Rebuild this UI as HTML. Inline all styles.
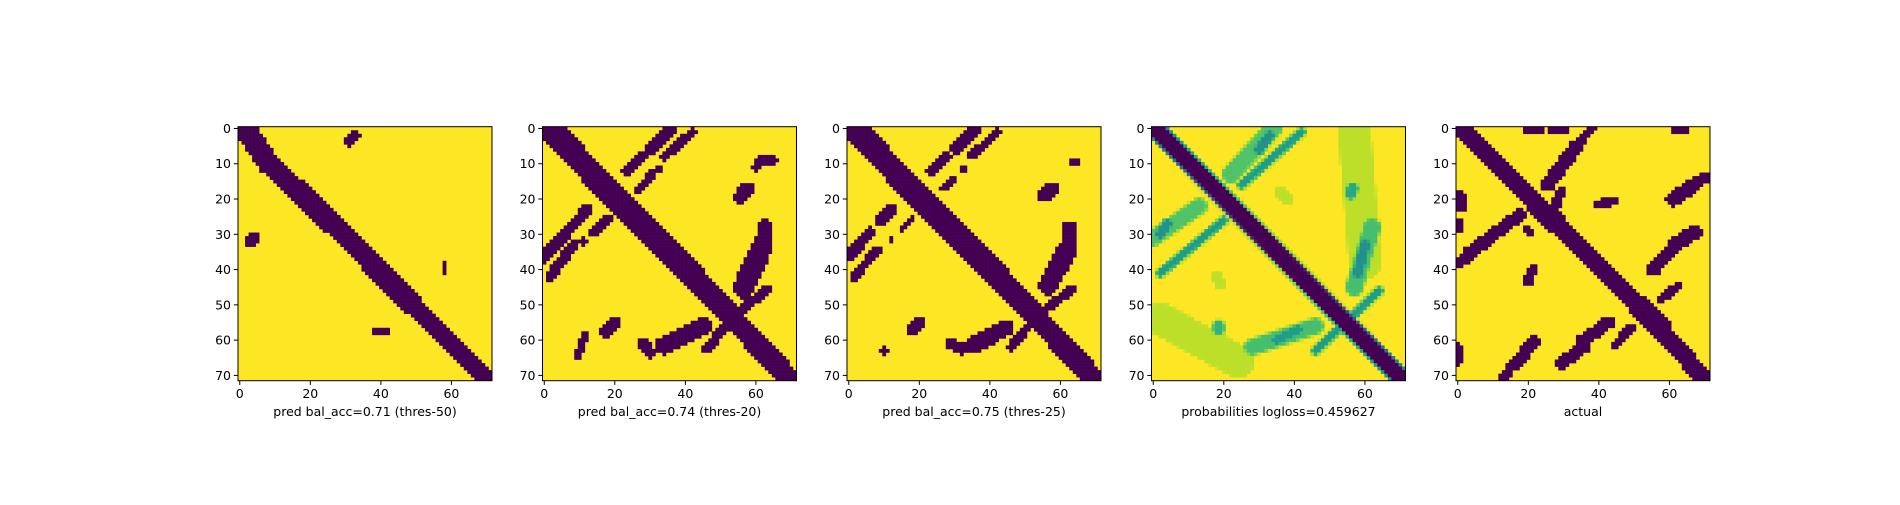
<!DOCTYPE html>
<html><head><meta charset="utf-8"><style>
html,body{margin:0;padding:0;background:#fff;}
svg text{font-family:"DejaVu Sans","Liberation Sans",sans-serif;font-size:12.5px;fill:#000;}
</style></head><body>
<svg id="fig" width="1900" height="500" viewBox="0 0 1900 500" xmlns="http://www.w3.org/2000/svg"></svg>
<script>
// Data: features, one array per panel: [r0, c0, r1, c1, halfWidth, intensity]
const N = 72;
const titles = ["pred bal_acc=0.71 (thres-50)", "pred bal_acc=0.74 (thres-20)", "pred bal_acc=0.75 (thres-25)", "probabilities logloss=0.459627", "actual"];
const yTicks = [0,10,20,30,40,50,60,70];
const xTicks = [0,20,40,60];

const feat1 = [
 [0,1.5,10,8.3,2.0,1],[10,8.3,30,29.5,2.0,1],[30,29.5,50,49,2.0,1],[50,49,71,70,1.8,1],
 [2,32.5,3.5,31,0.9,1],[31,4,32.5,2.5,0.9,1],[37.8,58,41.2,58,0.3,1],[57.5,38,57.5,41.5,0.3,1]
];
const feat2 = [
 [0,1.5,20,20.5,2.3,1],[20,20.5,50,50,2.3,1],[50,50,71,69.5,2.0,1],
 [0.5,35.5,6,30,1.2,1],[1,42,8,34,0.7,1],[8,27.5,12,23.5,1.0,1],[11,32.5,11.5,32.5,0.5,1],
 [13,30.5,17.5,26.5,0.6,1],[22.5,12.5,27,8.5,0.9,1],[25.5,18,29.5,14,0.6,1],[31.5,11,32.5,11,0.5,1],
 [29,6.5,36.5,0,1.0,1],[33,8.3,42,1.5,0.8,1],[9,61,9,65,0.6,1],[11,60,11.5,60,0.5,1],
 [17,57.5,19.5,55.5,1.2,1],[27.5,62.5,32,62,1.3,1],[34,61.5,45,56.5,2.0,1],[45.5,63,51,56.5,0.8,1],
 [56,51.5,62.5,46,0.8,1],[56,45,61.5,34,1.7,1],[61,28,63.5,30,0.9,1],[55,20,57.5,17.5,1.0,1],[59,11.5,64,9.5,0.6,1]
];
const feat3 = [
 [0,1.5,20,20.5,2.3,1],[20,20.5,50,50,2.3,1],[50,50,71,69.5,2.0,1],
 [0.5,35.5,5.5,30.5,1.1,1],[1,42,7.5,35,0.6,1],[8,27.5,12,23.5,0.9,1],[11.5,32.5,11.5,32.5,0.4,1],
 [14.5,29.5,17,26.5,0.5,1],[22.5,12.5,26.5,8.5,0.8,1],[25.5,18,28.5,15,0.5,1],[31.5,12,31.5,12,0.4,1],
 [29.5,6,36,0.2,0.9,1],[34.5,8,42,1.5,0.7,1],[9.5,63,9.5,64.5,0.5,1],
 [17,57.5,19,55.5,1.1,1],[28,62.5,32,62.5,1.2,1],[35,61.5,44.5,56.5,1.8,1],[45.5,63,50.5,57,0.7,1],
 [56.5,50.5,62,46,0.7,1],[56.5,44.5,61.5,35,1.5,1],[61,29,62.5,32,0.9,1],[55,20,57.5,17.5,0.9,1],[63,10,63.5,10,0.5,1]
];
const feat4 = [
 [0,0.5,71,70.5,1.8,1],
 [0,34,13,22,1.8,0.28],[2,33,6,30,0.8,0.5],[1,42,16,25,0.5,0.45],[22,13,31,0,1.6,0.28],[27,4,30,2,0.8,0.5],[26,20,41,2,0.5,0.45],
 [1,57,38,60,4.0,0.1],[17,56.5,18.5,56,1.0,0.4],[28,62,45,57,1.8,0.3],[33,60,41,58,0.9,0.5],
 [56,46,62,28,1.6,0.3],[57,41,60,35,0.8,0.45],[54,2,66,24,4.0,0.1],[56,18.5,57,18.5,1.0,0.35],[46,64,63,46,0.5,0.45],
 [18,36,20,38,1.0,0.1],[42,18,44,19,1.0,0.1]
];
const feat5 = [
 [0,1,22,23,1.4,1],[22,23,52,53,1.4,1],[52,53,71,70,1.6,1],
 [22,22.5,27,28,2.0,1],[51,52,56,57,2.2,1],
 [0,38,3.5,35,0.6,1],[5,33.5,16,25.5,1.2,1],[17.5,29.5,21,28,0.8,1],
 [24.5,17.5,35.5,3,1.1,1],[37,2,38,0.2,0.8,1],[28.5,19.5,29.5,20.5,0.7,1],
 [0.5,20,0.5,23,0.8,1],[0.5,27,0.5,30,0.7,1],[0.3,61,0.3,65,0.5,1],
 [19,0.5,22,1,0.9,1],[26.5,0.3,28.5,0.3,0.6,1],[62,0.3,66,0.3,0.6,1],
 [13.5,71,15,68,0.8,1],[16.5,66,20,61,1.3,1],[20.5,44,21.5,40,0.7,1],
 [29.5,67,32.5,62,1.3,1],[34,61,40,55.5,1.1,1],[44.5,62.5,48.5,57.5,0.7,1],
 [56.5,49,61.5,44.5,0.7,1],[55,42.5,60.5,35,1.1,1],[62,35.5,66.5,29.5,1.1,1],
 [60.5,21.5,66.5,16.5,1.1,1],[67.5,15,71,13,0.8,1],[39.5,21.5,43,20,0.8,1]
];
const panels = [feat1, feat2, feat3, feat4, feat5];
const soft = [false,false,false,true,false];

// layout / rendering style (not data)
const L0 = 238, STEP = 304.5, TOP = 126.7, SIZE = 254, CELL = SIZE / N;
const HW_SCALE = 1.35, PAD = 0.35, FADE = 0.6;
const viridis = [[68,1,84],[72,40,120],[62,74,137],[49,104,142],[38,130,142],[31,158,137],[53,183,121],[110,206,88],[181,222,43],[253,231,37]];
function vcol(t){t=Math.max(0,Math.min(1,t));const p=t*(viridis.length-1),i=Math.min(viridis.length-2,Math.floor(p)),f=p-i;
 const a=viridis[i],b=viridis[i+1];return `rgb(${Math.round(a[0]+(b[0]-a[0])*f)},${Math.round(a[1]+(b[1]-a[1])*f)},${Math.round(a[2]+(b[2]-a[2])*f)})`;}
function segDist(r,c,f){const dr=f[2]-f[0],dc=f[3]-f[1];const L=dr*dr+dc*dc;let t=L?((r-f[0])*dr+(c-f[1])*dc)/L:0;t=Math.max(0,Math.min(1,t));
 const pr=f[0]+t*dr-r,pc=f[1]+t*dc-c;return Math.sqrt(pr*pr+pc*pc);}
const xScale = (p,c) => L0 + p*STEP + c*CELL;
const yScale = r => TOP + r*CELL;
const NS="http://www.w3.org/2000/svg";
const svg=document.getElementById('fig');
function mk(tag,attrs,parent){const e=document.createElementNS(NS,tag);for(const k in attrs)e.setAttribute(k,attrs[k]);(parent||svg).appendChild(e);return e;}

panels.forEach((feats,p)=>{
 const g=mk('g',{});
 
 
 const x0=xScale(p,0);
 const bg=mk('rect',{x:x0,y:TOP,width:SIZE,height:SIZE,fill:'#fde725'},g);
 
 
 for(let r=0;r<N;r++){for(let c=0;c<N;c++){
  let v=0;
  for(const f of feats){const d=segDist(r,c,f);let s;
   if(soft[p]){const hw=f[4]+0.2;s=d<=hw?1:Math.exp(-Math.pow((d-hw)/FADE,2));}
   else{s=d<=f[4]*HW_SCALE+PAD?1:0;}
   v=Math.max(v,s*f[5]);}
  if(soft[p]){ if(v<0.04) continue; }
  else { if(v<0.5) continue; v=1; }
  const cell=mk('rect',{x:xScale(p,c).toFixed(2),y:yScale(r).toFixed(2),width:(CELL+0.3).toFixed(2),height:(CELL+0.3).toFixed(2),fill:vcol(1-v)},g);
  
  
 }}
 const fr=mk('rect',{x:x0,y:TOP,width:SIZE,height:SIZE,fill:'none',stroke:'#000','stroke-width':1},g);
 
 
 yTicks.forEach(t=>{const y=yScale(t+0.5);
  const tk=mk('line',{x1:x0,x2:x0-4.2,y1:y,y2:y,stroke:'#000','stroke-width':1},g);
  
  
  const tx=mk('text',{x:x0-7,y:y+4.5,'text-anchor':'end'},g);tx.textContent=t;
  
  });
 xTicks.forEach(t=>{const x=xScale(p,t+0.5);
  const tk=mk('line',{x1:x,x2:x,y1:TOP+SIZE,y2:TOP+SIZE+4.2,stroke:'#000','stroke-width':1},g);
  
  
  const tx=mk('text',{x:x,y:398,'text-anchor':'middle'},g);tx.textContent=t;
  
  });
 const ti=mk('text',{x:x0+SIZE/2,y:416,'text-anchor':'middle'},g);ti.textContent=titles[p];
 
 
});
</script>
</body></html>
